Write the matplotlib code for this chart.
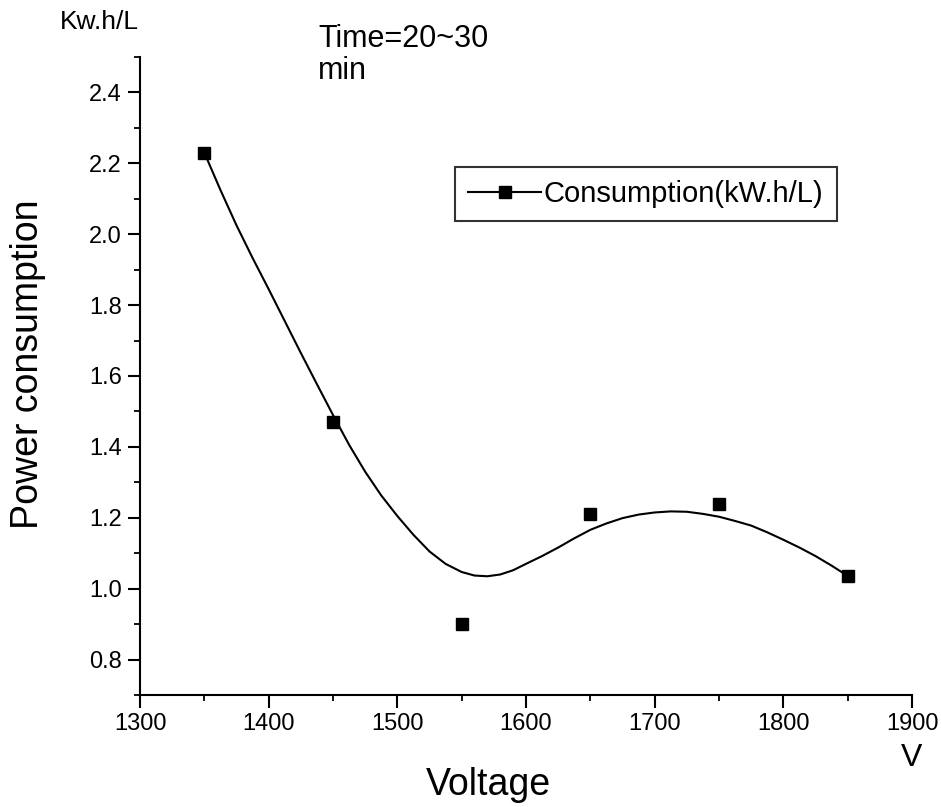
import matplotlib
matplotlib.use("Agg")
import matplotlib.pyplot as plt
import matplotlib.ticker as mticker
from matplotlib.lines import Line2D

# ── Data ──────────────────────────────────────────────────────────────────────
voltage     = [1350, 1450, 1550, 1650, 1750, 1850]
consumption = [2.23, 1.47, 0.90, 1.21, 1.24, 1.035]

# smoothed curve as drawn in the original
curve_v = [1350, 1362.5, 1375, 1387.5, 1400, 1412.5, 1425, 1437.5, 1450, 1462.5,
           1475, 1487.5, 1500, 1512.5, 1525, 1537.5, 1550, 1560, 1570, 1580,
           1590, 1600, 1612.5, 1625, 1637.5, 1650, 1662.5, 1675, 1687.5, 1700,
           1712.5, 1725, 1737.5, 1750, 1762.5, 1775, 1787.5, 1800, 1812.5, 1825,
           1837.5, 1850]
curve_c = [2.23, 2.125, 2.025, 1.933, 1.845, 1.755, 1.665, 1.577, 1.49, 1.406,
           1.33, 1.263, 1.205, 1.152, 1.105, 1.07, 1.047, 1.037, 1.035, 1.04,
           1.052, 1.07, 1.092, 1.116, 1.142, 1.166, 1.184, 1.199, 1.209, 1.215,
           1.218, 1.217, 1.211, 1.203, 1.191, 1.178, 1.159, 1.138, 1.116, 1.092,
           1.065, 1.036]

x_ticks = [1300, 1400, 1500, 1600, 1700, 1800, 1900]
y_ticks = [0.8, 1.0, 1.2, 1.4, 1.6, 1.8, 2.0, 2.2, 2.4]

plt.rcParams.update({
    "font.family": ["Liberation Sans", "DejaVu Sans"],
    "axes.linewidth": 1.5,
})

W, H = 941, 807
fig = plt.figure(figsize=(W / 100, H / 100), dpi=100)
ax = fig.add_axes([140 / W, 1 - 695 / H, 772 / W, 638 / H])

ax.plot(curve_v, curve_c, color="black", lw=1.5, zorder=2)
ax.plot(voltage, consumption, ls="none", marker="s", ms=8.5, color="black", zorder=3)

ax.set_xlim(1300, 1900)
ax.set_ylim(0.7, 2.5)
ax.set_xticks(x_ticks)
ax.set_yticks(y_ticks)
ax.xaxis.set_minor_locator(mticker.MultipleLocator(50))
ax.yaxis.set_minor_locator(mticker.MultipleLocator(0.1))
ax.yaxis.set_major_formatter(mticker.FormatStrFormatter("%.1f"))
ax.spines["top"].set_visible(False)
ax.spines["right"].set_visible(False)
ax.tick_params(which="major", direction="out", length=9, width=1.5, labelsize=17, pad=4)
ax.tick_params(which="minor", direction="out", length=4, width=1.3)

# axis labels
ax.text(0.451, -0.113, "Voltage", transform=ax.transAxes, fontsize=27,
        ha="center", va="top")
ax.text(-0.145, 0.519, "Power consumption", transform=ax.transAxes, fontsize=27,
        rotation=90, ha="center", va="center")
fig.text(99 / W, 1 - 22 / H, "Kw.h/L", fontsize=19, ha="center", va="center")
fig.text(912 / W, 1 - 758 / H, "V", fontsize=23, ha="center", va="center")
fig.text(318 / W, 1 - 24 / H, "Time=20~30\nmin", fontsize=22, ha="left", va="top",
         linespacing=1.1)

# legend
handle = Line2D([], [], color="black", lw=1.5, marker="s", ms=8.5)
leg = ax.legend([handle], ["Consumption(kW.h/L)"], loc="upper left",
                bbox_to_anchor=((455 - 140) / 772, (695 - 167) / 638),
                borderaxespad=0, fontsize=21, frameon=True, fancybox=False,
                edgecolor="black", handlelength=2.5, handletextpad=0.1,
                borderpad=0.45)
leg.get_frame().set_linewidth(1.5)

fig.savefig("out.png", dpi=100, facecolor="white")
